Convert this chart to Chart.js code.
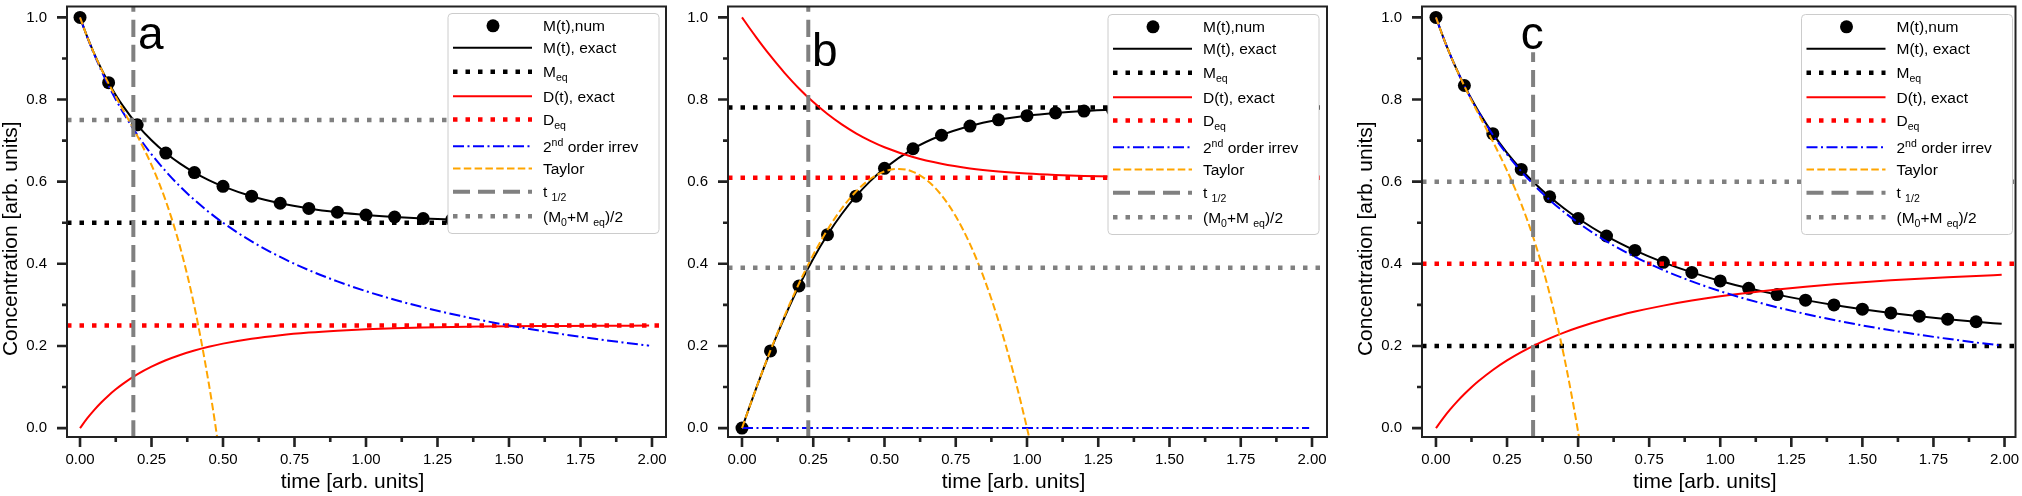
<!DOCTYPE html>
<html>
<head>
<meta charset="utf-8">
<script src="https://cdn.jsdelivr.net/npm/chart.js@4.4.1/dist/chart.umd.min.js"></script>
<style>
  body { margin: 0; background: #fff; }
  #wrap { position: relative; width: 2022px; height: 496px; }
  canvas { position: absolute; top: 0; }
</style>
</head>
<body>
<div id="wrap">
  <canvas id="chartA" width="680" height="496" style="left:0px"></canvas>
  <canvas id="chartB" width="660" height="496" style="left:680px"></canvas>
  <canvas id="chartC" width="682" height="496" style="left:1340px"></canvas>
</div>
<script>
// ---- data ----
const tGrid = [0, 0.025, 0.05, 0.075, 0.1, 0.125, 0.15, 0.2, 0.25, 0.3, 0.35, 0.4, 0.45, 0.5,
  0.6, 0.7, 0.8, 0.9, 1.0, 1.1, 1.2, 1.3, 1.4, 1.5, 1.6, 1.7, 1.8, 1.9, 1.99];
const tDots = [0, 0.1, 0.2, 0.3, 0.4, 0.5, 0.6, 0.7, 0.8, 0.9, 1.0, 1.1, 1.2, 1.3, 1.4, 1.5, 1.6, 1.7, 1.8, 1.9];
const tLine = [0, 1.99];

// panel a
const mNumA = [1, 0.841, 0.7385, 0.6697, 0.6222, 0.5886, 0.5647, 0.5474, 0.5348, 0.5256, 0.5189,
  0.514, 0.5103, 0.5076, 0.5056, 0.5042, 0.5031, 0.5023, 0.5017, 0.5013];
const mExactA = [1, 0.95296, 0.91126, 0.87413, 0.84095, 0.8112, 0.78446, 0.73853, 0.70086, 0.66971,
  0.64381, 0.62215, 0.60395, 0.58862, 0.56466, 0.54737, 0.53481, 0.52563, 0.51891, 0.51396,
  0.51032, 0.50763, 0.50564, 0.50418, 0.50309, 0.50229, 0.50169, 0.50126, 0.50096];
const dExactA = [0, 0.02352, 0.04437, 0.06294, 0.07953, 0.0944, 0.10777, 0.13074, 0.14957, 0.16515,
  0.1781, 0.18893, 0.19803, 0.20569, 0.21767, 0.22632, 0.2326, 0.23719, 0.24055, 0.24302,
  0.24484, 0.24619, 0.24718, 0.24791, 0.24846, 0.24886, 0.24916, 0.24937, 0.24952];
const irrevA = [1, 0.95238, 0.90909, 0.86957, 0.83333, 0.8, 0.76923, 0.71429, 0.66667, 0.625,
  0.58824, 0.55556, 0.52632, 0.5, 0.45455, 0.41667, 0.38462, 0.35714, 0.33333, 0.3125,
  0.29412, 0.27778, 0.26316, 0.25, 0.2381, 0.22727, 0.21739, 0.20833, 0.2008];
const tTaylorA = [0, 0.025, 0.05, 0.075, 0.1, 0.125, 0.15, 0.2, 0.25, 0.3, 0.35, 0.4, 0.45, 0.475, 0.5];
const taylorA = [1, 0.95295, 0.91113, 0.87348, 0.839, 0.80664, 0.77538, 0.712, 0.64063, 0.553,
  0.44088, 0.296, 0.10988, -0.00079, -0.125];

// panel b
const mNumB = [0, 0.1879, 0.346, 0.4709, 0.5646, 0.6324, 0.6801, 0.713, 0.7354, 0.7505, 0.7607,
  0.7674, 0.7719, 0.7749, 0.7769, 0.7782, 0.7791, 0.7797, 0.78, 0.7803];
const mExactB = [0, 0.04936, 0.09724, 0.14349, 0.18792, 0.23052, 0.2711, 0.34602, 0.41257, 0.47085,
  0.52131, 0.56457, 0.60135, 0.63238, 0.6801, 0.713, 0.7354, 0.7505, 0.7607, 0.7674,
  0.7719, 0.7749, 0.7769, 0.7782, 0.7791, 0.7797, 0.78, 0.7803, 0.7804];
const dExactB = [1, 0.97532, 0.95138, 0.92826, 0.90604, 0.88474, 0.86445, 0.82699, 0.79372, 0.76458,
  0.73935, 0.71772, 0.69933, 0.68381, 0.65995, 0.6435, 0.6323, 0.62475, 0.61965, 0.6163,
  0.61405, 0.61255, 0.61155, 0.6109, 0.61045, 0.61015, 0.61, 0.60985, 0.6098];
const irrevB = [0, 0];
const tTaylorB = [0, 0.05, 0.1, 0.15, 0.2, 0.25, 0.3, 0.35, 0.4, 0.45, 0.5, 0.55, 0.6, 0.65, 0.7,
  0.75, 0.8, 0.85, 0.9, 0.95, 1.0, 1.05];
const taylorB = [0, 0.09738, 0.189, 0.27413, 0.352, 0.42188, 0.483, 0.53463, 0.576, 0.60638, 0.625,
  0.63113, 0.624, 0.60288, 0.567, 0.51563, 0.448, 0.36338, 0.261, 0.14013, 0, -0.16];

// panel c
const mNumC = [1, 0.8341, 0.7168, 0.6299, 0.563, 0.5102, 0.4677, 0.4327, 0.4036, 0.3791, 0.3583,
  0.3404, 0.325, 0.3115, 0.2998, 0.2895, 0.2804, 0.2724, 0.2653, 0.2589];
const mExactC = [1, 0.95244, 0.90931, 0.87003, 0.83413, 0.80116, 0.77082, 0.71684, 0.67034, 0.62987,
  0.59438, 0.56303, 0.53515, 0.51024, 0.46766, 0.43271, 0.40361, 0.37912, 0.35828, 0.3404,
  0.32496, 0.31154, 0.29981, 0.28951, 0.28043, 0.2724, 0.26526, 0.25891, 0.25378];
const dExactC = [0, 0.02378, 0.04535, 0.06499, 0.08294, 0.09942, 0.11459, 0.14158, 0.16483, 0.18507,
  0.20281, 0.21849, 0.23243, 0.24488, 0.26617, 0.28365, 0.2982, 0.31044, 0.32086, 0.3298,
  0.33752, 0.34423, 0.3501, 0.35525, 0.35979, 0.3638, 0.36737, 0.37055, 0.37311];
const irrevC = [1, 0.95238, 0.90909, 0.86957, 0.83333, 0.8, 0.76923, 0.71429, 0.66667, 0.625,
  0.58824, 0.55556, 0.52632, 0.5, 0.45455, 0.41667, 0.38462, 0.35714, 0.33333, 0.3125,
  0.29412, 0.27778, 0.26316, 0.25, 0.2381, 0.22727, 0.21739, 0.20833, 0.2008];
const tTaylorC = [0, 0.025, 0.05, 0.075, 0.1, 0.125, 0.15, 0.2, 0.25, 0.3, 0.35, 0.4, 0.45, 0.5, 0.525];
const taylorC = [1, 0.95243, 0.90922, 0.86957, 0.83273, 0.79791, 0.76434, 0.69784, 0.62703, 0.54571,
  0.44767, 0.32672, 0.17665, -0.00875, -0.11663];

// levels per panel (a, b, c)
const mEq = [0.5, 0.7808, 0.2];
const dEq = [0.25, 0.6096, 0.4];
const mHalf = [0.75, 0.3904, 0.6];
const tHalf = [0.1865, 0.2326, 0.3417];

// axes
const xTicks = [0, 0.25, 0.5, 0.75, 1.0, 1.25, 1.5, 1.75, 2.0];
const xTickLabels = ['0.00', '0.25', '0.50', '0.75', '1.00', '1.25', '1.50', '1.75', '2.00'];
const xMinor = [0.125, 0.375, 0.625, 0.875, 1.125, 1.375, 1.625, 1.875];
const yTicks = [0, 0.2, 0.4, 0.6, 0.8, 1.0];
const yTickLabels = ['0.0', '0.2', '0.4', '0.6', '0.8', '1.0'];
const yMinor = [0.1, 0.3, 0.5, 0.7, 0.9];
const xTitle = 'time [arb. units]';
const yTitle = 'Concentration [arb. units]';
const legendLabels = ['M(t),num', 'M(t), exact', 'M_{eq}', 'D(t), exact', 'D_{eq}',
  '2^{nd} order irrev', 'Taylor', 't _{1/2}', '(M_{0}+M _{eq})/2'];

const FONT = '"Liberation Sans", Arial, sans-serif';
const yMin = -0.0217, yMax = 1.0265;
const dotted = [4.5, 8], dashed = [7.5, 3.3], dashDot = [11, 3.5, 2, 3.5], longDash = [17, 8];
const legendRows = [12.3, 34.3, 58.3, 82.7, 106, 132.7, 155, 178.3, 202.7];

Chart.defaults.font.family = FONT;
Chart.defaults.font.size = 15;
Chart.defaults.color = '#000';

function pts(ts, vs) {
  return ts.map((t, i) => ({ x: t, y: vs[i] }));
}

function line(ts, vs, color, width, dash) {
  return {
    data: pts(ts, vs), borderColor: color, borderWidth: width, borderDash: dash,
    pointRadius: 0, cubicInterpolationMode: 'monotone', borderCapStyle: 'butt'
  };
}

function drawRich(ctx, str, x, y, size) {
  let cx = x;
  str.split(/([_^]\{[^}]*\})/).filter(s => s).forEach(s => {
    let fs = size, dy = 0;
    if (s[0] === '_' || s[0] === '^') {
      fs = size * 0.68;
      dy = s[0] === '_' ? 4 : -6;
      s = s.slice(2, -1);
    }
    ctx.font = fs + 'px ' + FONT;
    ctx.fillText(s, cx, y + dy);
    cx += ctx.measureText(s).width;
  });
}

const deco = {
  id: 'deco',
  afterDatasetsDraw(chart, args, o) {
    const { ctx, chartArea: a, scales: { x, y } } = chart;
    ctx.save();

    // panel letter
    ctx.fillStyle = '#000';
    ctx.font = '46px ' + FONT;
    ctx.textAlign = 'left';
    ctx.textBaseline = 'alphabetic';
    ctx.fillText(o.letter, x.getPixelForValue(o.letterAt[0]), y.getPixelForValue(o.letterAt[1]));

    // frame
    ctx.strokeStyle = '#222';
    ctx.lineWidth = 2;
    ctx.setLineDash([]);
    ctx.strokeRect(a.left, a.top, a.right - a.left, a.bottom - a.top);

    // ticks
    ctx.lineWidth = 2.6;
    ctx.beginPath();
    xTicks.forEach(v => { const p = x.getPixelForValue(v); ctx.moveTo(p, a.bottom); ctx.lineTo(p, a.bottom + 10); });
    xMinor.forEach(v => { const p = x.getPixelForValue(v); ctx.moveTo(p, a.bottom); ctx.lineTo(p, a.bottom + 5); });
    yTicks.forEach(v => { const p = y.getPixelForValue(v); ctx.moveTo(a.left, p); ctx.lineTo(a.left - 10, p); });
    yMinor.forEach(v => { const p = y.getPixelForValue(v); ctx.moveTo(a.left, p); ctx.lineTo(a.left - 5, p); });
    ctx.stroke();

    // axis titles
    ctx.font = '21px ' + FONT;
    ctx.textAlign = 'center';
    ctx.textBaseline = 'middle';
    ctx.fillText(xTitle, (a.left + a.right) / 2 - 14, 482);
    if (o.yTitle) {
      ctx.save();
      ctx.translate(a.left - 56, (a.top + a.bottom) / 2 + 17);
      ctx.rotate(-Math.PI / 2);
      ctx.fillText(yTitle, 0, 0);
      ctx.restore();
    }

    // legend
    const w = 211, h = 220, r = 4;
    const lx = a.right - o.legendRight - w, ly = a.top + o.legendTop;
    ctx.beginPath();
    ctx.moveTo(lx + r, ly);
    ctx.arcTo(lx + w, ly, lx + w, ly + h, r);
    ctx.arcTo(lx + w, ly + h, lx, ly + h, r);
    ctx.arcTo(lx, ly + h, lx, ly, r);
    ctx.arcTo(lx, ly, lx + w, ly, r);
    ctx.closePath();
    ctx.fillStyle = '#ffffff';
    ctx.fill();
    ctx.strokeStyle = '#cccccc';
    ctx.lineWidth = 1;
    ctx.stroke();

    ctx.textAlign = 'left';
    ctx.textBaseline = 'alphabetic';
    chart.data.datasets.forEach((ds, i) => {
      const ry = ly + legendRows[i];
      if (ds.showLine === false) {
        ctx.fillStyle = ds.pointBackgroundColor;
        ctx.beginPath();
        ctx.arc(lx + 45, ry, ds.pointRadius, 0, Math.PI * 2);
        ctx.fill();
      } else {
        ctx.strokeStyle = ds.borderColor;
        ctx.lineWidth = ds.borderWidth;
        ctx.setLineDash(ds.borderDash);
        ctx.lineCap = 'butt';
        ctx.beginPath();
        ctx.moveTo(lx + 5, ry);
        ctx.lineTo(lx + 84, ry);
        ctx.stroke();
        ctx.setLineDash([]);
      }
      ctx.fillStyle = '#000';
      drawRich(ctx, legendLabels[i], lx + 95, ry + 5.5, 15.5);
    });

    ctx.restore();
  }
};

const panels = [
  { id: 'chartA', k: 0, letter: 'a', letterAt: [0.203, 0.923], yTitle: true,
    xMin: -0.0455, xMax: 2.049, yAxisW: 67, padRight: 14, legendRight: 7, legendTop: 7,
    mNum: mNumA, mExact: mExactA, dExact: dExactA, tIrrev: tGrid, irrev: irrevA,
    tTaylor: tTaylorA, taylor: taylorA, tHalfTop: 1.05 },
  { id: 'chartB', k: 1, letter: 'b', letterAt: [0.2456, 0.882], yTitle: false,
    xMin: -0.0491, xMax: 2.0526, yAxisW: 48, padRight: 13, legendRight: 8, legendTop: 8,
    mNum: mNumB, mExact: mExactB, dExact: dExactB, tIrrev: tLine, irrev: irrevB,
    tTaylor: tTaylorB, taylor: taylorB, tHalfTop: 1.05 },
  { id: 'chartC', k: 2, letter: 'c', letterAt: [0.298, 0.923], yTitle: true,
    xMin: -0.0491, xMax: 2.0386, yAxisW: 82, padRight: 5, legendRight: 3, legendTop: 8,
    mNum: mNumC, mExact: mExactC, dExact: dExactC, tIrrev: tGrid, irrev: irrevC,
    tTaylor: tTaylorC, taylor: taylorC, tHalfTop: 0.915 }
];

panels.forEach(p => {
  const xr = [p.xMin, p.xMax];
  const datasets = [
    { data: pts(tDots, p.mNum), showLine: false, pointRadius: 6.5, pointBackgroundColor: '#000',
      pointBorderWidth: 0, borderColor: '#000' },
    line(tGrid, p.mExact, '#000000', 2, []),
    line(xr, [mEq[p.k], mEq[p.k]], '#000000', 4.5, dotted),
    line(tGrid, p.dExact, '#ff0000', 2, []),
    line(xr, [dEq[p.k], dEq[p.k]], '#ff0000', 4.5, dotted),
    line(p.tIrrev, p.irrev, '#0000ff', 2, dashDot),
    line(p.tTaylor, p.taylor, '#ffa500', 2, dashed),
    line([tHalf[p.k], tHalf[p.k]], [yMin, p.tHalfTop], '#808080', 4, longDash),
    line(xr, [mHalf[p.k], mHalf[p.k]], '#808080', 4.5, dotted)
  ].map((d, i) => Object.assign(d, { order: -i, clip: 0 }));

  new Chart(document.getElementById(p.id), {
    type: 'line',
    data: { datasets },
    plugins: [deco],
    options: {
      responsive: false,
      animation: false,
      events: [],
      layout: { padding: { top: 2, right: p.padRight, left: 0, bottom: 0 } },
      plugins: {
        legend: { display: false },
        tooltip: { enabled: false },
        deco: p
      },
      scales: {
        x: {
          type: 'linear', min: p.xMin, max: p.xMax,
          afterBuildTicks: s => { s.ticks = xTicks.map(v => ({ value: v })); },
          afterFit: s => { s.height = 59; s.paddingLeft = 0; s.paddingRight = 0; },
          grid: { display: false, drawTicks: false },
          border: { display: false },
          ticks: { padding: 14, autoSkip: false, maxRotation: 0,
            callback: (v, i) => xTickLabels[i] }
        },
        y: {
          type: 'linear', min: yMin, max: yMax,
          afterBuildTicks: s => { s.ticks = yTicks.map(v => ({ value: v })); },
          afterFit: s => { s.width = p.yAxisW; s.paddingTop = 0; s.paddingBottom = 0; },
          grid: { display: false, drawTicks: false },
          border: { display: false },
          ticks: { padding: 20, autoSkip: false, callback: (v, i) => yTickLabels[i] }
        }
      }
    }
  });
});
</script>
</body>
</html>
